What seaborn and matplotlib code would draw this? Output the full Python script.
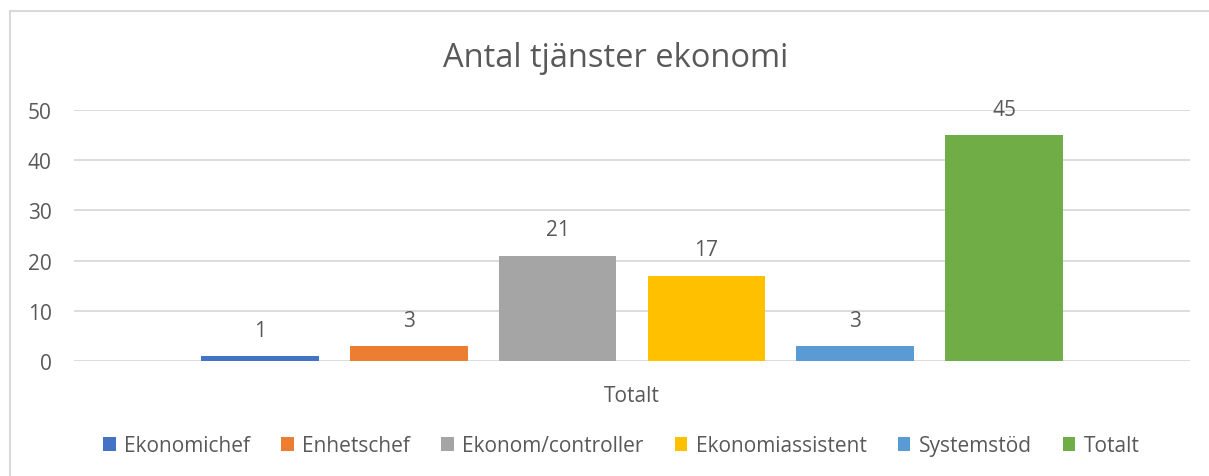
import pandas as pd
import seaborn as sns
import matplotlib.pyplot as plt
from matplotlib.patches import Patch
from matplotlib.lines import Line2D

# ── data ─────────────────────────────────────────────────────────────────────
kategori = ["Totalt"]
serier = ["Ekonomichef", "Enhetschef", "Ekonom/controller",
          "Ekonomiassistent", "Systemstöd", "Totalt"]
antal = [1, 3, 21, 17, 3, 45]
farger = ["#4472C4", "#ED7D31", "#A5A5A5", "#FFC000", "#5B9BD5", "#70AD47"]

df = pd.DataFrame({
    "kategori": kategori * len(serier),
    "serie": serier,
    "antal": antal,
})

# ── style ────────────────────────────────────────────────────────────────────
sns.set_style("white")
plt.rcParams["font.family"] = ["Open Sans", "DejaVu Sans"]
text_col = "#595959"
grid_col = "#D9D9D9"
fs = 15

fig = plt.figure(figsize=(12.09, 4.77), dpi=100)
ax = fig.add_axes([0.0612, 0.2411, 0.9231, 0.5262])

sns.barplot(data=df, x="kategori", y="antal", hue="serie",
            hue_order=serier, palette=farger, saturation=1,
            width=0.8, gap=0.21, legend=False, linewidth=0, ax=ax)

ax.set_xlim(-0.5, 0.5)
ax.set_ylim(0, 50)
ax.set_yticks(range(0, 51, 10))
ax.yaxis.grid(True, color=grid_col, linewidth=1.3)
ax.set_axisbelow(True)
for side in ["top", "right", "left", "bottom"]:
    ax.spines[side].set_visible(False)
ax.tick_params(axis="both", length=0, labelsize=fs, colors=text_col)
ax.tick_params(axis="x", pad=17)
ax.tick_params(axis="y", pad=16)
ax.set_xlabel("")
ax.set_ylabel("")

for cont in ax.containers:
    ax.bar_label(cont, padding=11, fontsize=fs, color=text_col)

fig.text(0.509, 0.878, "Antal tjänster ekonomi", ha="center", va="center",
         fontsize=23.5, color=text_col)

handles = [Patch(facecolor=c, edgecolor="none") for c in farger]
fig.legend(handles, serier, loc="center", bbox_to_anchor=(0.514, 0.063),
           ncol=6, frameon=False, fontsize=fs, labelcolor=text_col,
           handlelength=0.6, handleheight=0.6, handletextpad=0.4,
           columnspacing=1.5)

# chart border (Excel frame, partly cropped)
fig.add_artist(Line2D([0.0083, 1.0], [0.975, 0.975], color="#D9D9D9",
                      linewidth=1.5, transform=fig.transFigure))
fig.add_artist(Line2D([0.0083, 0.0083], [0.0, 0.975], color="#D9D9D9",
                      linewidth=1.5, transform=fig.transFigure))

fig.savefig("out.png", dpi=100)
